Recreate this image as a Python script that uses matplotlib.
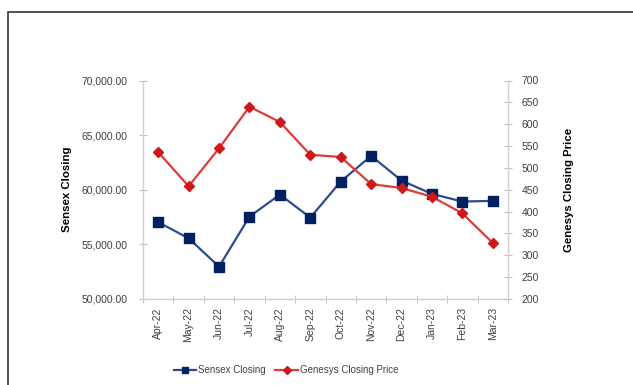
import matplotlib.pyplot as plt
from matplotlib.patches import Rectangle
from matplotlib.lines import Line2D

months = ['Apr-22', 'May-22', 'Jun-22', 'Jul-22', 'Aug-22', 'Sep-22',
          'Oct-22', 'Nov-22', 'Dec-22', 'Jan-23', 'Feb-23', 'Mar-23']
sensex = [57030, 55560, 52960, 57540, 59560, 57450,
          60750, 63100, 60840, 59620, 58920, 58980]
genesys = [536, 458, 545, 640, 605, 530, 525, 463, 454, 434, 396, 328]

plt.rcParams['font.family'] = ['Liberation Sans', 'DejaVu Sans']

fig = plt.figure(figsize=(6.33, 3.85), dpi=100)
# outer chart frame (runs off the right and bottom edges)
fig.patches.append(Rectangle((8 / 633, -0.1), 1.0, 1 - 12 / 385 + 0.1,
                             transform=fig.transFigure, fill=False,
                             edgecolor='#333333', linewidth=1.2))

ax = fig.add_axes([143 / 633, 86 / 385, 365 / 633, 218.5 / 385])
ax2 = ax.twinx()

x = list(range(len(months)))
ax.plot(x, sensex, color='#2f4b8c', linewidth=1.6, marker='s',
        markersize=6.5, markerfacecolor='#002060', markeredgecolor='#002060')
ax2.plot(x, genesys, color='#e03a3a', linewidth=1.6, marker='D',
         markersize=5, markerfacecolor='#d01818', markeredgecolor='#d01818')

ax.set_xlim(-0.5, len(months) - 0.5)
ax.set_ylim(50000, 70000)
ax.set_yticks(range(50000, 70001, 5000))
ax.set_yticklabels([f'{v:,.2f}' for v in range(50000, 70001, 5000)])
ax2.set_ylim(200, 700)
ax2.set_yticks(range(200, 701, 50))

ax.set_xticks(x)
ax.set_xticklabels(months, rotation=90)
ax.set_xticks([i - 0.5 for i in range(len(months) + 1)], minor=True)
ax.tick_params(axis='x', which='major', length=0, pad=6)
ax.tick_params(axis='x', which='minor', length=6, direction='inout',
               color='#bfbfbf')

for a in (ax, ax2):
    for s in a.spines.values():
        s.set_visible(False)
    a.tick_params(axis='y', length=6, direction='inout', color='#bfbfbf',
                  labelsize=7.5, labelcolor='#404040')
    a.tick_params(axis='x', labelsize=7.5, labelcolor='#404040')
ax.tick_params(axis='y', pad=8)
ax2.tick_params(axis='y', pad=7)
ax.spines['left'].set_visible(True)
ax.spines['bottom'].set_visible(True)
ax2.spines['right'].set_visible(True)
for s in (ax.spines['left'], ax.spines['bottom'], ax2.spines['right']):
    s.set_color('#d0d0d0')
    s.set_linewidth(1.0)

ax.set_ylabel('Sensex Closing', fontsize=8.2, fontweight='bold', labelpad=7)
ax2.set_ylabel('Genesys Closing Price', fontsize=8.2, fontweight='bold',
               rotation=90, labelpad=18)

handles = [
    Line2D([], [], color='#2f4b8c', linewidth=1.6, marker='s', markersize=5,
           markerfacecolor='#002060', markeredgecolor='#002060'),
    Line2D([], [], color='#e03a3a', linewidth=1.6, marker='D', markersize=4,
           markerfacecolor='#d01818', markeredgecolor='#d01818'),
]
fig.legend(handles, ['Sensex Closing', 'Genesys Closing Price'],
           loc='center', bbox_to_anchor=(286 / 633, 1 - 370 / 385), ncol=2,
           frameon=False, fontsize=7, handlelength=2.3, columnspacing=1.0,
           handletextpad=0.2, labelcolor='#404040')

fig.savefig('out.png', dpi=100)
